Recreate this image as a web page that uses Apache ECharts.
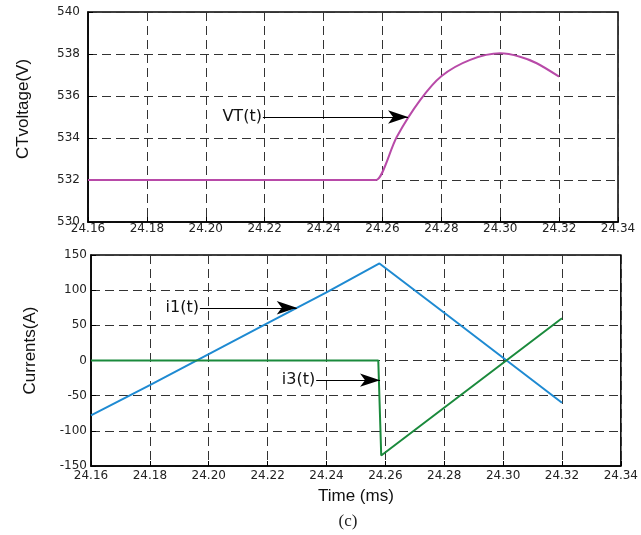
<!DOCTYPE html>
<html>
<head>
<meta charset="utf-8">
<script src="https://cdn.jsdelivr.net/npm/echarts@6/dist/echarts.min.js"></script>
<style>
html,body{margin:0;padding:0;background:#fff;}
#chart{width:641px;height:535px;}
</style>
</head>
<body>
<div id="chart"></div>
<script>
// ---- data ----
const xTicks = [24.16, 24.18, 24.20, 24.22, 24.24, 24.26, 24.28, 24.30, 24.32, 24.34];
const vtTicks = [530, 532, 534, 536, 538, 540];
const curTicks = [-150, -100, -50, 0, 50, 100, 150];

const vtTime  = [24.16, 24.2570, 24.2578, 24.2649, 24.2728, 24.2801, 24.2898, 24.3000, 24.3067, 24.3124, 24.32];
const vtValue = [532, 532, 532, 534.06, 535.80, 536.95, 537.72, 538.03, 537.87, 537.56, 536.92];

const i1Time  = [24.16, 24.18, 24.20, 24.22, 24.24, 24.258, 24.28, 24.30, 24.32];
const i1Value = [-78, -35, 9, 53, 97, 138, 68, 4, -60];

const i3Time  = [24.16, 24.2576, 24.2586, 24.32];
const i3Value = [0, 0, -135, 60];

const seriesNames = ['VT(t)', 'i1(t)', 'i3(t)'];
const yNames = ['CTvoltage(V)', 'Currents(A)'];
const xName = 'Time (ms)';
const caption = '(c)';

// ---- chart ----
const zip = (a, b) => a.map((v, i) => [v, b[i]]);
const tickFont = 'DejaVu Sans';
const gridLine = { show: true, lineStyle: { color: '#333', type: [9, 5], width: 1 } };

function xAxis(gridIndex, opts) {
  return Object.assign({
    type: 'value', gridIndex,
    min: xTicks[0], max: xTicks[xTicks.length - 1], interval: 0.02,
    axisLine: { show: true, onZero: false, lineStyle: { color: '#000', width: 1.5 } },
    axisTick: { show: true, inside: true, length: 5, lineStyle: { color: '#000' } },
    axisLabel: { color: '#222', fontFamily: tickFont, fontSize: 12, margin: 1,
      formatter: v => v.toFixed(2) },
    splitLine: gridLine
  }, opts || {});
}
function yAxis(gridIndex, ticks, interval, opts) {
  return Object.assign({
    type: 'value', gridIndex,
    min: ticks[0], max: ticks[ticks.length - 1], interval,
    axisLine: { show: true, onZero: false, lineStyle: { color: '#000', width: 1.5 } },
    axisTick: { show: true, inside: true, length: 5, lineStyle: { color: '#000' } },
    axisLabel: { color: '#222', fontFamily: tickFont, fontSize: 12, margin: 8 },
    splitLine: gridLine
  }, opts || {});
}

function arrowLine(from, to, text) {
  return {
    silent: true,
    symbol: ['none', 'arrow'],
    symbolSize: [10, 20],
    lineStyle: { color: '#000', width: 1, type: 'solid' },
    label: { show: true, position: 'start', distance: 1, formatter: text,
      color: '#111', fontFamily: 'DejaVu Sans', fontSize: 16 },
    animation: false,
    data: [[{ coord: from }, { coord: to }]]
  };
}

const chart = echarts.init(document.getElementById('chart'), null, { renderer: 'canvas' });
chart.setOption({
  animation: false,
  backgroundColor: '#fff',
  grid: [
    { left: 88, top: 12, width: 530, height: 210, show: true, borderColor: '#000', borderWidth: 1.5, containLabel: false },
    { left: 91, top: 255, width: 530, height: 211, show: true, borderColor: '#000', borderWidth: 1.5, containLabel: false }
  ],
  xAxis: [
    xAxis(0),
    xAxis(1, { axisLabel: { color: '#222', fontFamily: tickFont, fontSize: 12, margin: 4, formatter: v => v.toFixed(2) },
      name: xName, nameLocation: 'middle', nameGap: 22,
      nameTextStyle: { color: '#111', fontFamily: 'Liberation Sans', fontSize: 17 } })
  ],
  yAxis: [
    yAxis(0, vtTicks, 2, { name: yNames[0], nameLocation: 'middle', nameGap: 56,
      nameTextStyle: { color: '#111', fontFamily: 'Liberation Sans', fontSize: 17, padding: [0, 0, 0, 16] } }),
    yAxis(1, curTicks, 50, { axisLabel: { color: '#222', fontFamily: tickFont, fontSize: 12, margin: 4 },
      name: yNames[1], nameLocation: 'middle', nameGap: 52,
      nameTextStyle: { color: '#111', fontFamily: 'Liberation Sans', fontSize: 17, padding: [0, 0, 0, 20] } })
  ],
  title: {
    text: caption, left: 343, top: 508, textAlign: 'center',
    textStyle: { fontFamily: 'Liberation Serif', fontSize: 17, fontWeight: 'normal', color: '#222' }
  },
  series: [
    { name: seriesNames[0], type: 'line', xAxisIndex: 0, yAxisIndex: 0, data: zip(vtTime, vtValue),
      showSymbol: false, smooth: 0.3,
      lineStyle: { color: '#b84aa8', width: 2 }, itemStyle: { color: '#b84aa8' },
      markLine: arrowLine([24.2194, 535], [24.2687, 535], seriesNames[0]) },
    { name: seriesNames[1], type: 'line', xAxisIndex: 1, yAxisIndex: 1, data: zip(i1Time, i1Value),
      showSymbol: false, lineStyle: { color: '#1e8ad2', width: 2 }, itemStyle: { color: '#1e8ad2' },
      markLine: arrowLine([24.197, 75], [24.2299, 75], seriesNames[1]) },
    { name: seriesNames[2], type: 'line', xAxisIndex: 1, yAxisIndex: 1, data: zip(i3Time, i3Value),
      showSymbol: false, lineStyle: { color: '#1a8a3c', width: 2 }, itemStyle: { color: '#1a8a3c' },
      markLine: arrowLine([24.2365, -28], [24.2582, -28], seriesNames[2]) }
  ]
});
</script>
</body>
</html>
